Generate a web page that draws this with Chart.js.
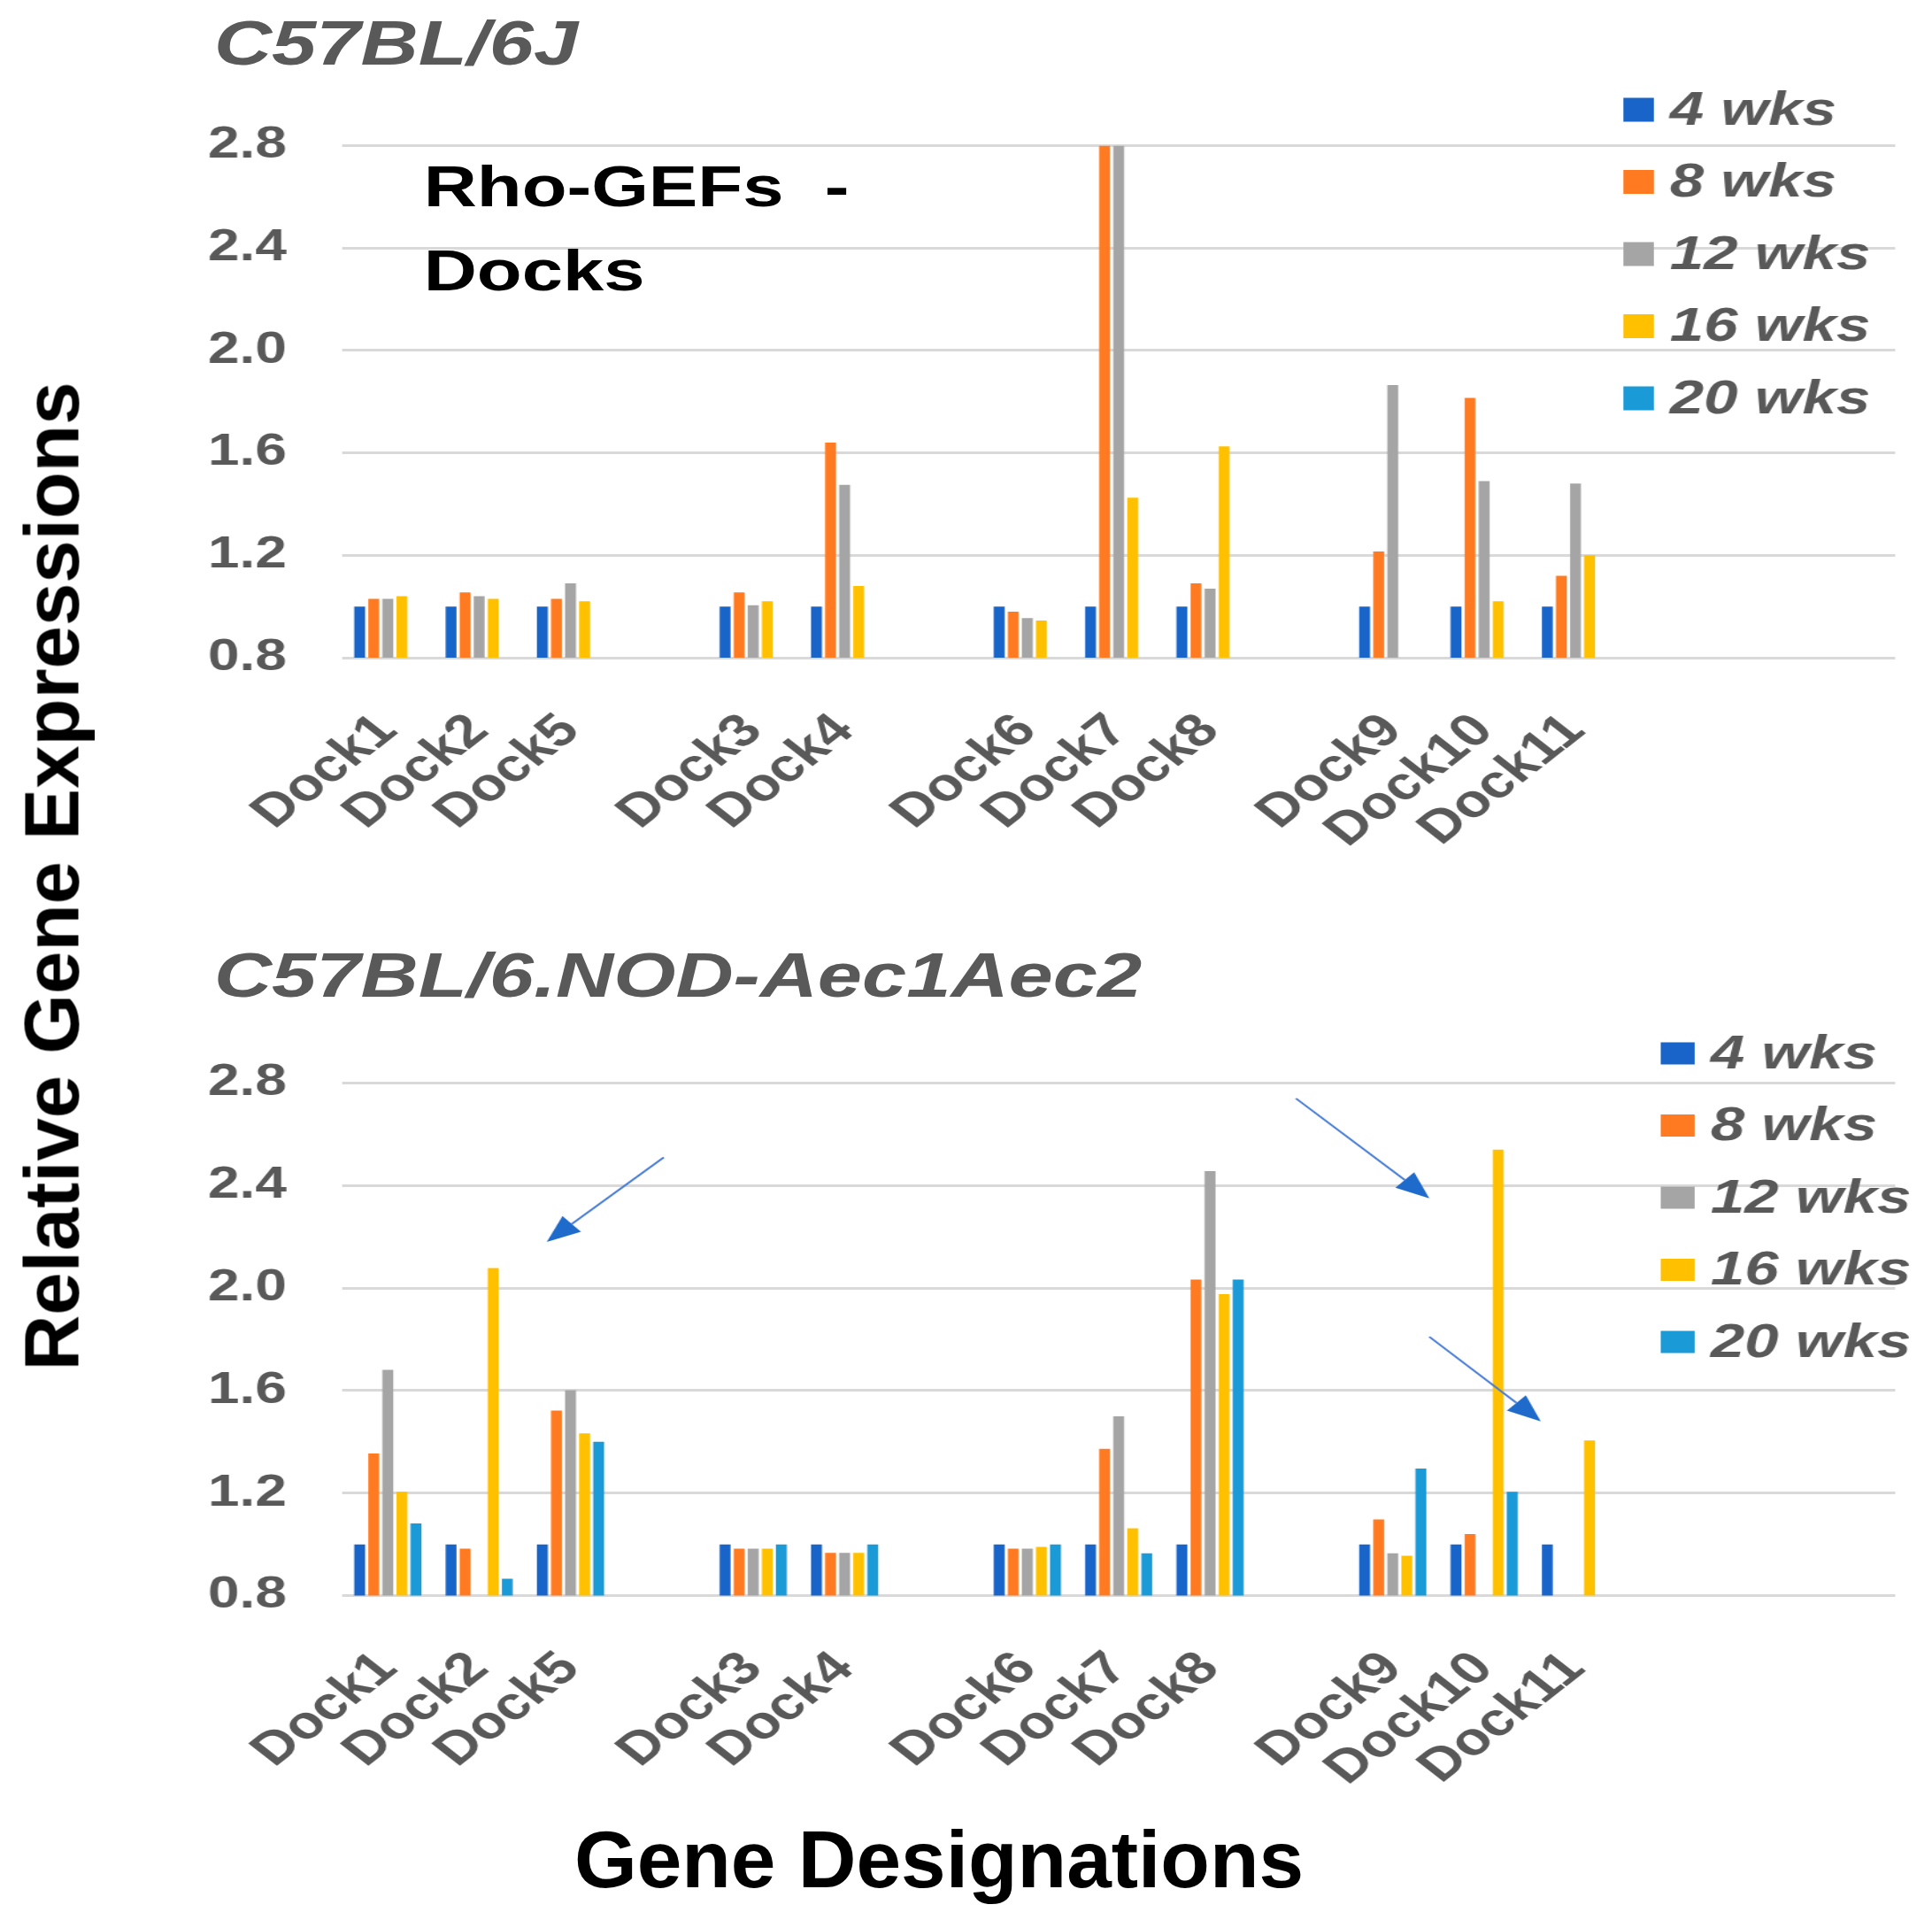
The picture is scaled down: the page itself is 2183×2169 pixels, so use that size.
<!DOCTYPE html>
<html>
<head>
<meta charset="utf-8">
<title>Rho-GEFs - Docks</title>
<script src="https://cdn.jsdelivr.net/npm/chart.js@4.4.0/dist/chart.umd.min.js"></script>
<style>
  html, body { margin: 0; padding: 0; background: #fff; }
  body { width: 2183px; height: 2169px; position: relative; overflow: hidden;
         font-family: 'Liberation Sans', Arial, sans-serif; }
  /* the source figure is stretched sideways, so the chart layer is too */
  #stretch { position: absolute; left: 0; top: 0; width: 1706px; height: 2169px;
             transform: scaleX(1.28); transform-origin: 0 0; }
  #stretch canvas { position: absolute; left: 0; }
  #topChart { top: 0; }
  #botChart { top: 1000px; }
  .strain { position: absolute; left: 189px; font-size: 70.5px; line-height: 70px;
            font-weight: bold; font-style: italic; color: #595959; white-space: nowrap; }
  #rho { position: absolute; left: 374px; top: 163px; font-size: 65px; line-height: 95px;
         font-weight: bold; color: #000; white-space: pre; }
  #yTitle { position: absolute; left: 58px; top: 990px; font-size: 87px; line-height: 87px;
            font-weight: bold; color: #000; white-space: nowrap;
            transform: translate(-50%, -50%) rotate(-90deg); }
  #xTitle { position: absolute; left: 1061px; top: 2055px; font-size: 91px; line-height: 91px;
            font-weight: bold; color: #000; white-space: nowrap; transform: translateX(-50%); }
</style>
</head>
<body>
<div id="stretch">
  <canvas id="topChart" width="1706" height="1000"></canvas>
  <canvas id="botChart" width="1706" height="1169"></canvas>
  <div class="strain" style="top:14px">C57BL/6J</div>
  <div class="strain" style="top:1067px">C57BL/6.NOD-Aec1Aec2</div>
  <div id="rho">Rho-GEFs  -
Docks</div>
</div>
<div id="yTitle">Relative Gene Expressions</div>
<div id="xTitle">Gene Designations</div>

<script>
// blank slots are the gaps between gene groups
var categories = ['Dock1', 'Dock2', 'Dock5', '', 'Dock3', 'Dock4', '', 'Dock6', 'Dock7', 'Dock8',
  '', 'Dock9', 'Dock10', 'Dock11', '', '', ''];
var seriesLabels = ['4 wks', '8 wks', '12 wks', '16 wks', '20 wks'];
var seriesColors = ['#1864C8', '#FF7A21', '#A5A5A5', '#FFC000', '#1B9AD8'];
var yTicks = [0.8, 1.2, 1.6, 2.0, 2.4, 2.8];

// C57BL/6J
var b6Wk4 = [1.0, 1.0, 1.0, null, 1.0, 1.0, null, 1.0, 1.0, 1.0, null, 1.0, 1.0, 1.0, null, null, null];
var b6Wk8 = [1.03, 1.055, 1.03, null, 1.055, 1.64, null, 0.98, 2.8, 1.09, null, 1.215, 1.815, 1.12, null, null, null];
var b6Wk12 = [1.03, 1.04, 1.09, null, 1.005, 1.475, null, 0.955, 2.8, 1.07, null, 1.865, 1.49, 1.48, null, null, null];
var b6Wk16 = [1.04, 1.03, 1.02, null, 1.02, 1.08, null, 0.945, 1.425, 1.625, null, null, 1.02, 1.2, null, null, null];
var b6Wk20 = [null, null, null, null, null, null, null, null, null, null, null, null, null, null, null, null, null];

// C57BL/6.NOD-Aec1Aec2
var nodWk4 = [1.0, 1.0, 1.0, null, 1.0, 1.0, null, 1.0, 1.0, 1.0, null, 1.0, 1.0, 1.0, null, null, null];
var nodWk8 = [1.355, 0.983, 1.522, null, 0.983, 0.967, null, 0.983, 1.373, 2.033, null, 1.097, 1.04, null, null, null, null];
var nodWk12 = [1.681, null, 1.602, null, 0.983, 0.967, null, 0.983, 1.5, 2.456, null, 0.965, null, null, null, null, null];
var nodWk16 = [1.205, 2.078, 1.433, null, 0.983, 0.967, null, 0.99, 1.063, 1.976, null, 0.956, 2.54, 1.406, null, null, null];
var nodWk20 = [1.082, 0.866, 1.4, null, 1.0, 1.0, null, 1.0, 0.965, 2.033, null, 1.296, 1.205, null, null, null, null];

// arrows in the lower panel: [fromIndex, fromValue, toIndex, toValue]
var nodArrows = [
  [3.02, 2.51, 1.74, 2.18],
  [9.94, 2.74, 11.40, 2.35],
  [11.40, 1.81, 12.62, 1.48]
];

Chart.defaults.font.family = "'Liberation Sans', Arial, sans-serif";
Chart.defaults.font.weight = 'bold';

var boxLegend = {
  id: 'boxLegend',
  afterDraw: function(chart, args, o) {
    var ctx = chart.ctx;
    ctx.save();
    ctx.font = 'italic bold 54px "Liberation Sans", Arial, sans-serif';
    ctx.textBaseline = 'middle';
    chart.data.datasets.forEach(function(ds, i) {
      var cy = o.y + i * o.step;
      ctx.fillStyle = ds.backgroundColor;
      ctx.fillRect(o.x, cy - o.boxH / 2, o.boxW, o.boxH);
      ctx.fillStyle = '#595959';
      ctx.fillText(ds.label, o.textX, cy + 2);
    });
    ctx.restore();
  }
};

var arrowMarks = {
  id: 'arrowMarks',
  afterDatasetsDraw: function(chart, args, o) {
    if (!o.list) return;
    var xs = chart.scales.x, ys = chart.scales.y, ctx = chart.ctx;
    ctx.save();
    o.list.forEach(function(a) {
      var x1 = xs.getPixelForValue(a[0]), y1 = ys.getPixelForValue(a[1]);
      var x2 = xs.getPixelForValue(a[2]), y2 = ys.getPixelForValue(a[3]);
      var ang = Math.atan2(y2 - y1, x2 - x1);
      var len = 30, half = 12;
      var bx = x2 - len * Math.cos(ang), by = y2 - len * Math.sin(ang);
      ctx.strokeStyle = '#4A7ED6';
      ctx.lineWidth = 2;
      ctx.beginPath();
      ctx.moveTo(x1, y1);
      ctx.lineTo(bx, by);
      ctx.stroke();
      ctx.fillStyle = '#1F6BCB';
      ctx.beginPath();
      ctx.moveTo(x2, y2);
      ctx.lineTo(bx + half * Math.sin(ang), by - half * Math.cos(ang));
      ctx.lineTo(bx - half * Math.sin(ang), by + half * Math.cos(ang));
      ctx.closePath();
      ctx.fill();
    });
    ctx.restore();
  }
};

function makeChart(id, series, areaTop, areaBottom, legendOpts, arrows) {
  var canvas = document.getElementById(id);
  var datasets = series.map(function(values, i) {
    return {
      label: seriesLabels[i],
      data: values,
      backgroundColor: seriesColors[i],
      borderWidth: 0,
      categoryPercentage: 0.77,
      barPercentage: 0.775
    };
  });
  return new Chart(canvas.getContext('2d'), {
    type: 'bar',
    data: { labels: categories, datasets: datasets },
    plugins: [boxLegend, arrowMarks],
    options: {
      responsive: false,
      animation: false,
      devicePixelRatio: 1,
      layout: { padding: { top: areaTop, right: 33, bottom: 0, left: 0 } },
      plugins: {
        legend: { display: false },
        title: { display: false },
        tooltip: { enabled: false },
        boxLegend: legendOpts,
        arrowMarks: { list: arrows }
      },
      scales: {
        x: {
          grid: { display: false },
          border: { display: false },
          ticks: {
            autoSkip: false,
            minRotation: 45,
            maxRotation: 45,
            padding: 44,
            color: '#595959',
            font: { size: 52, weight: 'bold' }
          },
          afterFit: function(scale) {
            scale.height = canvas.height - areaBottom;
            // rotated labels must not push the plot edges in
            scale.paddingLeft = 0;
            scale.paddingRight = 0;
          }
        },
        y: {
          min: yTicks[0],
          max: yTicks[yTicks.length - 1],
          afterBuildTicks: function(scale) {
            scale.ticks = yTicks.map(function(v) { return { value: v }; });
          },
          grid: { color: '#D9D9D9', lineWidth: 3, drawTicks: false },
          border: { display: false },
          ticks: {
            padding: 49,
            color: '#595959',
            font: { size: 50, weight: 'bold' },
            callback: function(v) { return Number(v).toFixed(1); }
          },
          afterFit: function(scale) { scale.width = 302; }
        }
      }
    }
  });
}

makeChart('topChart', [b6Wk4, b6Wk8, b6Wk12, b6Wk16, b6Wk20], 164.5, 743,
  { x: 1433, y: 124, step: 81.5, boxW: 27, boxH: 27, textX: 1474 }, null);
makeChart('botChart', [nodWk4, nodWk8, nodWk12, nodWk16, nodWk20], 223.5, 802.6,
  { x: 1466, y: 190, step: 81.5, boxW: 30, boxH: 25, textX: 1510 }, nodArrows);
</script>
</body>
</html>
